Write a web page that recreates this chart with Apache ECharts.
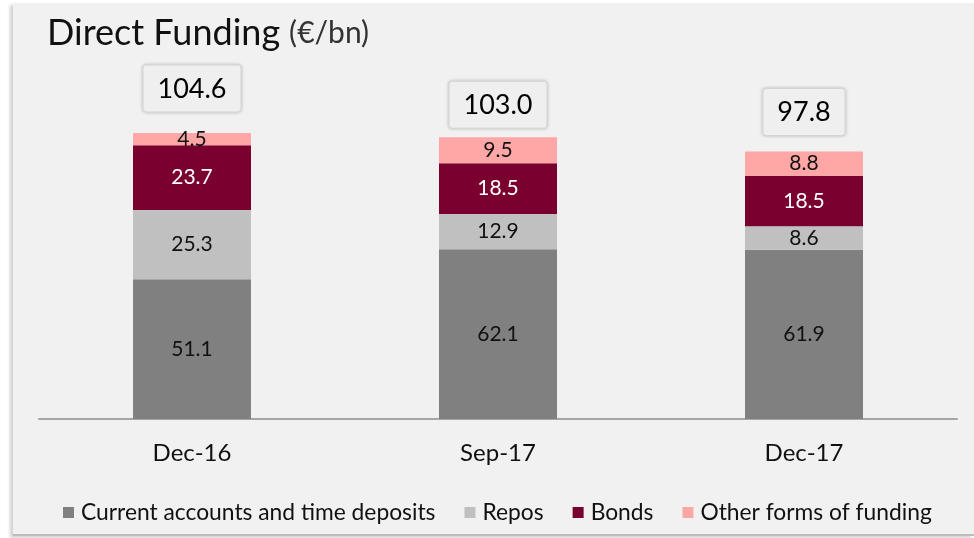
<!DOCTYPE html>
<html>
<head>
<meta charset="utf-8">
<script src="https://cdn.jsdelivr.net/npm/echarts@6/dist/echarts.min.js"></script>
<style>
  html, body { margin: 0; padding: 0; background: #ffffff; }
  .panel {
    position: absolute; left: 13px; top: 3px; width: 961px; height: 531px;
    background: #f1f1f1; box-shadow: -3px 2px 3px rgba(0,0,0,0.18);
    border-bottom: 2px solid #bdbdbd;
  }
  #chart { position: absolute; left: 0; top: 0; width: 974px; height: 538px; }
</style>
</head>
<body>
<div class="panel"></div>
<div id="chart"></div>
<script>
// data
var categories = ['Dec-16', 'Sep-17', 'Dec-17']
var currentAccounts = [51.1, 62.1, 61.9]
var repos = [25.3, 12.9, 8.6]
var bonds = [23.7, 18.5, 18.5]
var otherFunding = [4.5, 9.5, 8.8]
var totals = [104.6, 103.0, 97.8]

var seriesNames = ['Current accounts and time deposits', 'Repos', 'Bonds', 'Other forms of funding']
var colors = ['#808080', '#c0c0c0', '#7a0030', '#ffa6a6']
var labelColors = ['#111', '#111', '#fff', '#111']
var values = [currentAccounts, repos, bonds, otherFunding]

// gap between bar top and the total box, per column
var boxGap = [21, 9, 16]

var myChart = echarts.init(document.getElementById('chart'))

var series = values.map(function (arr, i) {
    return {
        name: seriesNames[i],
        type: 'bar',
        stack: 'funding',
        barWidth: 118,
        itemStyle: { color: colors[i] },
        label: {
            show: true,
            position: 'inside',
            color: labelColors[i],
            fontFamily: 'Lato',
            fontSize: 21,
            formatter: function (p) { return p.value.toFixed(1) }
        },
        data: arr
    }
})

// boxed totals above each column
series.push({
    name: 'Total',
    type: 'scatter',
    symbolSize: 1,
    itemStyle: { color: 'rgba(0,0,0,0)' },
    silent: true,
    z: 10,
    data: totals.map(function (t, i) {
        return {
            value: t,
            label: { distance: boxGap[i] }
        }
    }),
    label: {
        show: true,
        position: 'top',
        color: '#000',
        opacity: 1,
        textBorderWidth: 0,
        fontFamily: 'Lato',
        fontSize: 27,
        backgroundColor: '#efefef',
        borderColor: '#dedede',
        borderWidth: 2,
        borderRadius: 3,
        padding: [10, 14, 9, 14],
        shadowColor: 'rgba(0,0,0,0.12)',
        shadowBlur: 3,
        formatter: function (p) { return p.value.toFixed(1) }
    }
})

myChart.setOption({
    backgroundColor: 'transparent',
    animation: false,
    title: {
        text: '{a|Direct Funding} {b|(€/bn)}',
        left: 42,
        top: 10,
        textStyle: {
            rich: {
                a: { fontFamily: 'Lato', fontSize: 36, fontWeight: 'normal', color: '#111' },
                b: { fontFamily: 'Lato', fontSize: 30, fontWeight: 'normal', color: '#333', padding: [0, 0, 0, 4] }
            }
        }
    },
    legend: {
        data: seriesNames,
        left: 58,
        top: 496,
        icon: 'rect',
        itemWidth: 11,
        itemHeight: 11,
        itemGap: 29,
        textStyle: { fontFamily: 'Lato', fontSize: 22.8, color: '#111', padding: [0, 0, 0, 2] }
    },
    grid: { left: 39, right: 17, top: 133, bottom: 119 },
    xAxis: {
        type: 'category',
        data: categories,
        axisLine: { lineStyle: { color: '#a6a6a6', width: 2 } },
        axisTick: { show: false },
        axisLabel: { fontFamily: 'Lato', fontSize: 24, color: '#111', margin: 22 }
    },
    yAxis: {
        type: 'value',
        min: 0,
        max: 104.6,
        show: false
    },
    series: series
})
</script>
</body>
</html>
